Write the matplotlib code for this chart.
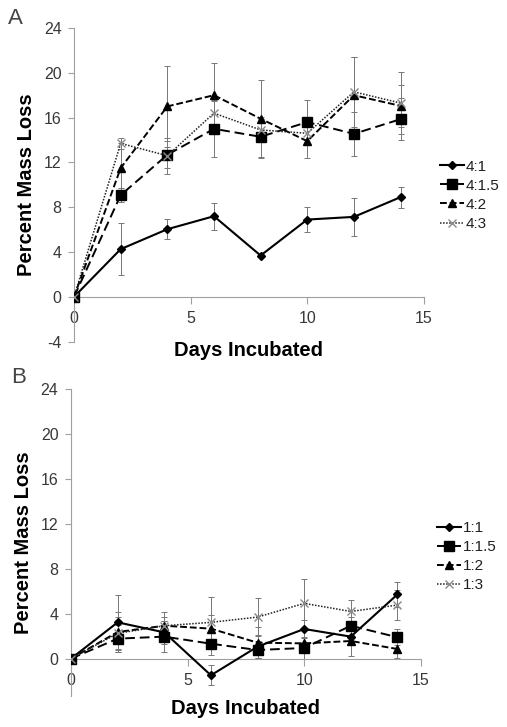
import matplotlib.pyplot as plt

days = [0, 2, 4, 6, 8, 10, 12, 14]

# panel A
a_labels = ["4:1", "4:1.5", "4:2", "4:3"]
a_41 = [0, 4.26, 6.04, 7.2, 3.69, 6.9, 7.14, 8.9]
a_41_err = [0, 2.3, 0.87, 1.2, 0.15, 1.1, 1.7, 0.95]
a_415 = [0, 9.08, 12.68, 15.0, 14.29, 15.6, 14.55, 15.86]
a_415_err = [0, 0.6, 1.2, 2.5, 1.8, 2.0, 1.95, 1.9]
a_42 = [0, 11.5, 17.0, 18.0, 15.9, 13.9, 18.0, 17.05]
a_42_err = [0, 2.2, 3.6, 2.9, 3.5, 1.5, 3.4, 1.9]
a_43 = [0, 13.7, 12.6, 16.4, 14.9, 14.6, 18.3, 17.3]
a_43_err = [0, 0.5, 1.6, 1.2, 1.0, 1.0, 3.1, 2.8]

# panel B
b_labels = ["1:1", "1:1.5", "1:2", "1:3"]
b_11 = [0, 3.23, 2.34, -1.48, 1.07, 2.64, 1.96, 5.72]
b_11_err = [0, 2.4, 1.0, 0.9, 1.0, 0.8, 0.6, 1.1]
b_115 = [0, 1.78, 1.96, 1.33, 0.77, 0.95, 2.93, 1.9]
b_115_err = [0, 1.2, 1.4, 1.0, 0.8, 0.95, 0.8, 0.7]
b_12 = [0, 2.37, 2.93, 2.67, 1.42, 1.36, 1.57, 0.86]
b_12_err = [0, 1.8, 0.8, 1.2, 1.4, 1.36, 1.3, 0.8]
b_13 = [0, 2.25, 2.93, 3.23, 3.7, 4.92, 4.2, 4.77]
b_13_err = [0, 1.5, 1.2, 2.3, 1.7, 2.2, 1.0, 1.3]

plt.rcParams['font.family'] = ['Liberation Sans', 'DejaVu Sans']
plt.rcParams['axes.unicode_minus'] = False

styles = [
    dict(marker='D', ms=4.5, ls='-', lw=1.5, color='black', mfc='black'),
    dict(marker='s', ms=6.5, ls=(0, (5, 2.5)), lw=1.4, color='black', mfc='black'),
    dict(marker='^', ms=6, ls=(0, (3.5, 1.5)), lw=1.4, color='black', mfc='black'),
    dict(marker='x', ms=6, ls=(0, (1, 1)), lw=1.1, color='#222222', mec='#8a8a8a', mew=1.0),
]

gray = '#a0a0a0'
tcol = '#383838'


def panel(ax, series, errs, labels, ymin, leg_y):
    for ys, es, st, lab in zip(series, errs, styles, labels):
        ax.errorbar(days, ys, yerr=es, fmt='none', ecolor='#777777',
                    elinewidth=0.7, capsize=2, capthick=0.7, zorder=2)
        ax.plot(days, ys, label=lab, zorder=3, **st)
    ax.set_xlim(0, 15)
    ax.set_ylim(ymin, 24)
    ax.set_xticks([0, 5, 10, 15])
    ax.set_yticks([-4, 0, 4, 8, 12, 16, 20, 24] if ymin <= -4 else [0, 4, 8, 12, 16, 20, 24])
    ax.spines['top'].set_visible(False)
    ax.spines['right'].set_visible(False)
    ax.spines['bottom'].set_position(('data', 0))
    ax.spines['left'].set_color(gray)
    ax.spines['bottom'].set_color(gray)
    ax.tick_params(axis='x', colors=gray, labelcolor=tcol, labelsize=11.5,
                   direction='out', length=5, pad=5)
    ax.tick_params(axis='y', colors=gray, labelcolor=tcol, labelsize=11.5,
                   direction='out', length=4, pad=5)
    ax.set_ylabel("Percent Mass Loss", fontsize=14.5, fontweight='bold')
    ax.yaxis.set_label_coords(-0.109, 0.5)
    ax.set_xlabel("Days Incubated", fontsize=14.5, fontweight='bold')
    leg = ax.legend(loc='upper left', bbox_to_anchor=(1.045, leg_y), frameon=False,
                    fontsize=11, handlelength=1.6, handletextpad=0.1,
                    labelspacing=0.33, borderpad=0, borderaxespad=0)
    for t in leg.get_texts():
        t.set_color('#202020')


fig = plt.figure(figsize=(5.07, 7.27), dpi=100)
axA = fig.add_axes([0.146, 0.530, 0.690, 0.4315])
panel(axA, [a_41, a_415, a_42, a_43], [a_41_err, a_415_err, a_42_err, a_43_err],
      a_labels, -4, 0.58)
axA.xaxis.set_label_coords(0.5, 0.003)

axB = fig.add_axes([0.140, 0.043, 0.690, 0.422])
panel(axB, [b_11, b_115, b_12, b_13], [b_11_err, b_115_err, b_12_err, b_13_err],
      b_labels, -3.3, 0.57)
axB.xaxis.set_label_coords(0.5, -0.012)

fig.text(0.016, 0.974, "A", fontsize=16, color='#444444', va='center')
fig.text(0.022, 0.481, "B", fontsize=16, color='#444444', va='center')

fig.savefig("out.png", dpi=100)
